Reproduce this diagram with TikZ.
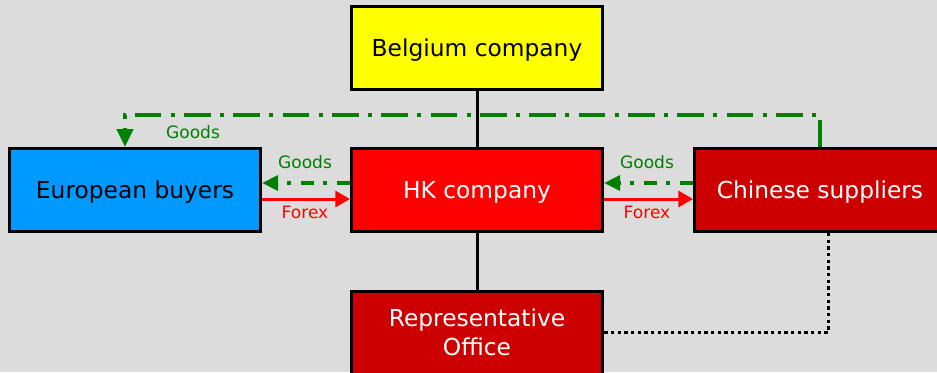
\documentclass[tikz,border=0pt]{standalone}
\usepackage{fontspec}
\setmainfont{DejaVu Sans}
\usetikzlibrary{arrows.meta}
\definecolor{bg}{HTML}{DCDCDC}
\definecolor{boxyellow}{HTML}{FFFF00}
\definecolor{boxblue}{HTML}{0099FF}
\definecolor{boxred}{HTML}{FF0000}
\definecolor{boxdark}{HTML}{CC0000}
\definecolor{flowgreen}{HTML}{008000}
\definecolor{flowred}{HTML}{FF0000}
\tikzset{
  entity/.style={draw=black, line width=2.25pt, minimum width=188.25pt,
    minimum height=62.25pt, inner sep=0pt, align=center,
    text height=14pt, text depth=1pt,
    font=\fontsize{17.5}{21.75}\selectfont},
  tie/.style={draw=black, line width=2.25pt},
  goodslong/.style={draw=flowgreen, line width=3pt,
    dash pattern=on 20pt off 7pt on 3pt off 7pt,
    -{Triangle[length=13.5pt,width=12pt]}},
  goodsshort/.style={draw=flowgreen, line width=3pt,
    dash pattern=on 10pt off 7pt on 3pt off 7pt,
    -{Triangle[length=12pt,width=11pt]}},
  forex/.style={draw=flowred, line width=2.25pt,
    -{Triangle[length=11pt,width=12pt]}},
  visit/.style={draw=black, line width=2.25pt, dash pattern=on 2.5pt off 2.5pt},
  flowlabel/.style={font=\fontsize{12.8}{15}\selectfont, inner sep=0pt},
}
\begin{document}
\begin{tikzpicture}[x=0.75pt, y=-0.75pt]
  \useasboundingbox (0,0) rectangle (937,372);
  \fill[bg] (0,0) rectangle (937,372);
  \clip (0,0) rectangle (937,372);

  % companies
  \node[entity, fill=boxyellow, text=black] (bel) at (477,48) {Belgium company};
  \node[entity, fill=boxblue, text=black] (eu) at (135,190) {European buyers};
  \node[entity, fill=boxred, text=white] (hk) at (477,190) {HK company};
  \node[entity, fill=boxdark, text=white] (cn) at (820,190) {Chinese suppliers};
  \node[entity, fill=boxdark, text=white, text height=35pt] (rep) at (477,332.5) {Representative\\Office};

  % ownership ties
  \draw[tie] (bel) -- (hk);
  \draw[tie] (hk) -- (rep);

  % direct shipment from suppliers to buyers
  \coordinate (turn) at (125,115);
  \draw[goodslong] (cn.north) |- (turn) -- (turn |- eu.north);
  \node[flowlabel, text=flowgreen] (gtop) at (193,132) {Goods};

  % flows between buyers and HK
  \draw[goodsshort] ([yshift=5.25pt]hk.west) -- ([yshift=5.25pt]eu.east);
  \draw[forex] ([yshift=-6.75pt]eu.east) -- ([yshift=-6.75pt]hk.west);
  \node[flowlabel, text=flowgreen] (gl) at (305,162) {Goods};
  \node[flowlabel, text=flowred] (fl) at (305,212) {Forex};

  % flows between HK and suppliers
  \draw[goodsshort] ([yshift=5.25pt]cn.west) -- ([yshift=5.25pt]hk.east);
  \draw[forex] ([yshift=-6.75pt]hk.east) -- ([yshift=-6.75pt]cn.west);
  \node[flowlabel, text=flowgreen] (gr) at (647,162) {Goods};
  \node[flowlabel, text=flowred] (fr) at (647,212) {Forex};

  % representative office link to suppliers
  \draw[visit] ([xshift=6pt]cn.south) |- (rep.east);
\end{tikzpicture}
\end{document}
